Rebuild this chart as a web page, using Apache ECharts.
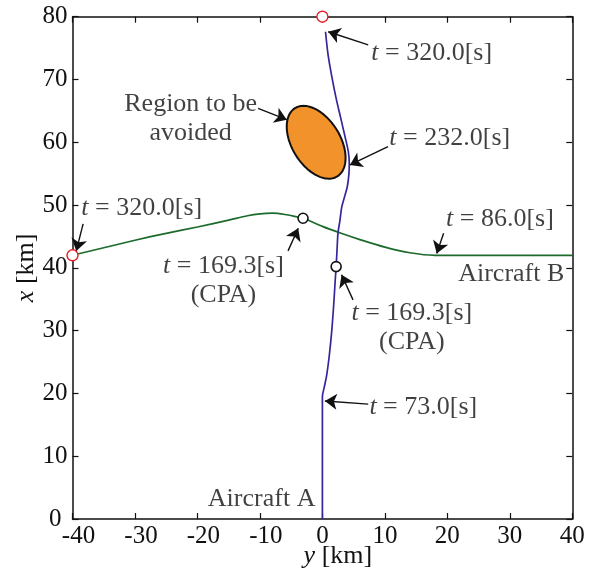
<!DOCTYPE html>
<html>
<head>
<meta charset="utf-8">
<script src="https://cdn.jsdelivr.net/npm/echarts@6/dist/echarts.min.js"></script>
<style>html,body{margin:0;padding:0;background:#fff}#c{width:596px;height:574px}</style>
</head>
<body>
<div id="c"></div>
<script>
// Horizontal axis: y [km]; vertical axis: x [km]. Points are [y, x].
var yTicks = [-40, -30, -20, -10, 0, 10, 20, 30, 40];
var xTicks = [0, 10, 20, 30, 40, 50, 60, 70, 80];

var aircraftA = [[0,0],[0,19.5],[0.3,21],[0.7,23],[1.1,26],[1.5,30],[1.8,34],[2.05,38],[2.2,40.2],[2.35,43],[2.5,45.6],[2.8,47.5],[3.1,49.7],[3.6,51.5],[4.0,53],[4.25,55],[4.3,56.6],[4.15,58.5],[3.6,61],[2.9,64],[2.2,67],[1.5,70.5],[0.9,74],[0.5,77.6]];
var aircraftB = [[40,42],[18,42],[14,42.4],[10,43.3],[6,44.5],[3,45.5],[0,46.6],[-3,47.9],[-4,48.1],[-6,48.5],[-8,48.7],[-10,48.6],[-12,48.3],[-15,47.6],[-20,46.5],[-25,45.5],[-30,44.4],[-35,43.2],[-40,42]];
var targets = [[0,80],[-40,42]];
var cpaPoints = [[2.2,40.2],[-3.1,47.9]];

var ellipseCenter = [-1.0, 60.0];
var ellipseAxes = [6.4, 3.85];
var ellipseAngleDeg = -58;

var labelPos = [[7.9,74.7],[10.8,61.2],[19.87,48.3],[38.8,39.6],[-38.5,50.0],[-15.76,38.5],[14.4,31.0],[7.6,18.3],[-1.04,3.7],[-21.0,64.3]];
var labelText = ['{i|t} = 320.0[s]','{i|t} = 232.0[s]','{i|t} = 86.0[s]','Aircraft B','{i|t} = 320.0[s]','{i|t} = 169.3[s]\n(CPA)','{i|t} = 169.3[s]\n(CPA)','{i|t} = 73.0[s]','Aircraft A','Region to be\navoided'];
var labelAlign = ['left','left','left','right','left','center','center','left','right','center'];

var arrowFrom = [[7.33,75.5],[10.5,59.3],[19.4,45.5],[-38.3,47.0],[-5.5,42.7],[4.9,34.9],[7.33,18.3],[-10.3,65.4]];
var arrowTo = [[0.93,77.6],[4.4,56.4],[18.3,42.3],[-39.4,42.7],[-3.87,46.3],[3.07,38.9],[0.4,18.8],[-5.7,63.6]];

var FONT = 'Liberation Serif';
var TXT = '#111';
var chart = echarts.init(document.getElementById('c'));

var axisLine = {show: true, onZero: false, lineStyle: {color: '#111', width: 1.5}};
var tick = {show: true, inside: true, length: 6, lineStyle: {color: '#111', width: 1.2}};

var labelData = labelPos.map(function (p, i) {
  return {value: p, label: {align: labelAlign[i]}};
});
var arrowData = arrowFrom.map(function (p, i) {
  return {coords: [p, arrowTo[i]]};
});

chart.setOption({
  backgroundColor: '#fff',
  animation: false,
  grid: {left: 72.5, right: 23.7, top: 16.7, bottom: 55, containLabel: false, outerBoundsMode: 'none'},
  xAxis: [{
    type: 'value', min: -40, max: 40, interval: 10, position: 'bottom',
    axisLine: axisLine, axisTick: tick, splitLine: {show: false},
    axisLabel: {
      margin: 5, fontFamily: FONT, fontSize: 25, color: TXT,
      formatter: function (v) { return v < 0 ? '{n|' + v + '}' : String(v); },
      rich: {n: {fontFamily: FONT, fontSize: 25, color: TXT, padding: [0, 0, 0, 12]}}
    },
    name: '{i|y} [km]', nameLocation: 'middle', nameGap: 24, nameMoveOverlap: false,
    nameTextStyle: {fontFamily: FONT, fontSize: 26, color: TXT, padding: [0, 0, 0, 31],
      rich: {i: {fontFamily: FONT, fontSize: 26, fontStyle: 'italic', color: TXT}}}
  }, {
    type: 'value', min: -40, max: 40, interval: 10, position: 'top',
    axisLine: axisLine, axisTick: tick, splitLine: {show: false}, axisLabel: {show: false}
  }],
  yAxis: [{
    type: 'value', min: 0, max: 80, interval: 10, position: 'left',
    axisLine: axisLine, axisTick: tick, splitLine: {show: false},
    axisLabel: {
      margin: 5, fontFamily: FONT, fontSize: 25, color: TXT,
      formatter: function (v) { return v === 0 ? '{z|0}' : String(v); },
      rich: {z: {fontFamily: FONT, fontSize: 25, color: TXT, padding: [0, 6, 0, 0]}}
    },
    name: '{i|x} [km]', nameLocation: 'middle', nameGap: 33, nameRotate: 90, nameMoveOverlap: false,
    nameTextStyle: {fontFamily: FONT, fontSize: 26, color: TXT,
      rich: {i: {fontFamily: FONT, fontSize: 26, fontStyle: 'italic', color: TXT}}}
  }, {
    type: 'value', min: 0, max: 80, interval: 10, position: 'right',
    axisLine: axisLine, axisTick: tick, splitLine: {show: false}, axisLabel: {show: false}
  }],
  series: [
    {
      type: 'custom', z: 1,
      data: [ellipseCenter],
      renderItem: function (params, api) {
        var a = ellipseAngleDeg * Math.PI / 180;
        var pts = [];
        for (var k = 0; k < 120; k++) {
          var s = k / 120 * Math.PI * 2;
          var u = ellipseAxes[0] * Math.cos(s), w = ellipseAxes[1] * Math.sin(s);
          pts.push(api.coord([ellipseCenter[0] + u * Math.cos(a) - w * Math.sin(a),
                              ellipseCenter[1] + u * Math.sin(a) + w * Math.cos(a)]));
        }
        return {type: 'polygon', shape: {points: pts},
          style: {fill: '#f2922a', stroke: '#111', lineWidth: 2}};
      }
    },
    {
      type: 'line', data: aircraftB, smooth: 0.3, showSymbol: false, z: 3,
      lineStyle: {color: '#1d6b2c', width: 1.7}
    },
    {
      type: 'line', data: aircraftA, smooth: 0.3, showSymbol: false, z: 3,
      lineStyle: {color: '#33279a', width: 1.7}
    },
    {
      type: 'scatter', data: cpaPoints, symbol: 'circle', symbolSize: 10, z: 4, clip: false,
      itemStyle: {color: '#fff', borderColor: '#111', borderWidth: 1.6, opacity: 1}
    },
    {
      type: 'scatter', data: targets, symbol: 'circle', symbolSize: 11, z: 6, clip: false,
      itemStyle: {color: '#fff', borderColor: '#e8202a', borderWidth: 1.4, opacity: 1}
    },
    {
      type: 'lines', coordinateSystem: 'cartesian2d', z: 5,
      symbol: ['none', 'arrow'], symbolSize: [8, 12],
      lineStyle: {color: '#111', width: 1.4, opacity: 1},
      data: arrowData
    },
    {
      type: 'scatter', data: labelData, symbolSize: 1, z: 7, clip: false,
      itemStyle: {color: 'rgba(0,0,0,0)'},
      label: {
        show: true, position: [0, 0], offset: [0, 4], verticalAlign: 'middle',
        fontFamily: FONT, fontSize: 26, color: TXT, lineHeight: 29,
        formatter: function (p) { return labelText[p.dataIndex]; },
        rich: {i: {fontFamily: FONT, fontSize: 26, fontStyle: 'italic', color: TXT, lineHeight: 29}}
      }
    }
  ]
});
</script>
</body>
</html>
